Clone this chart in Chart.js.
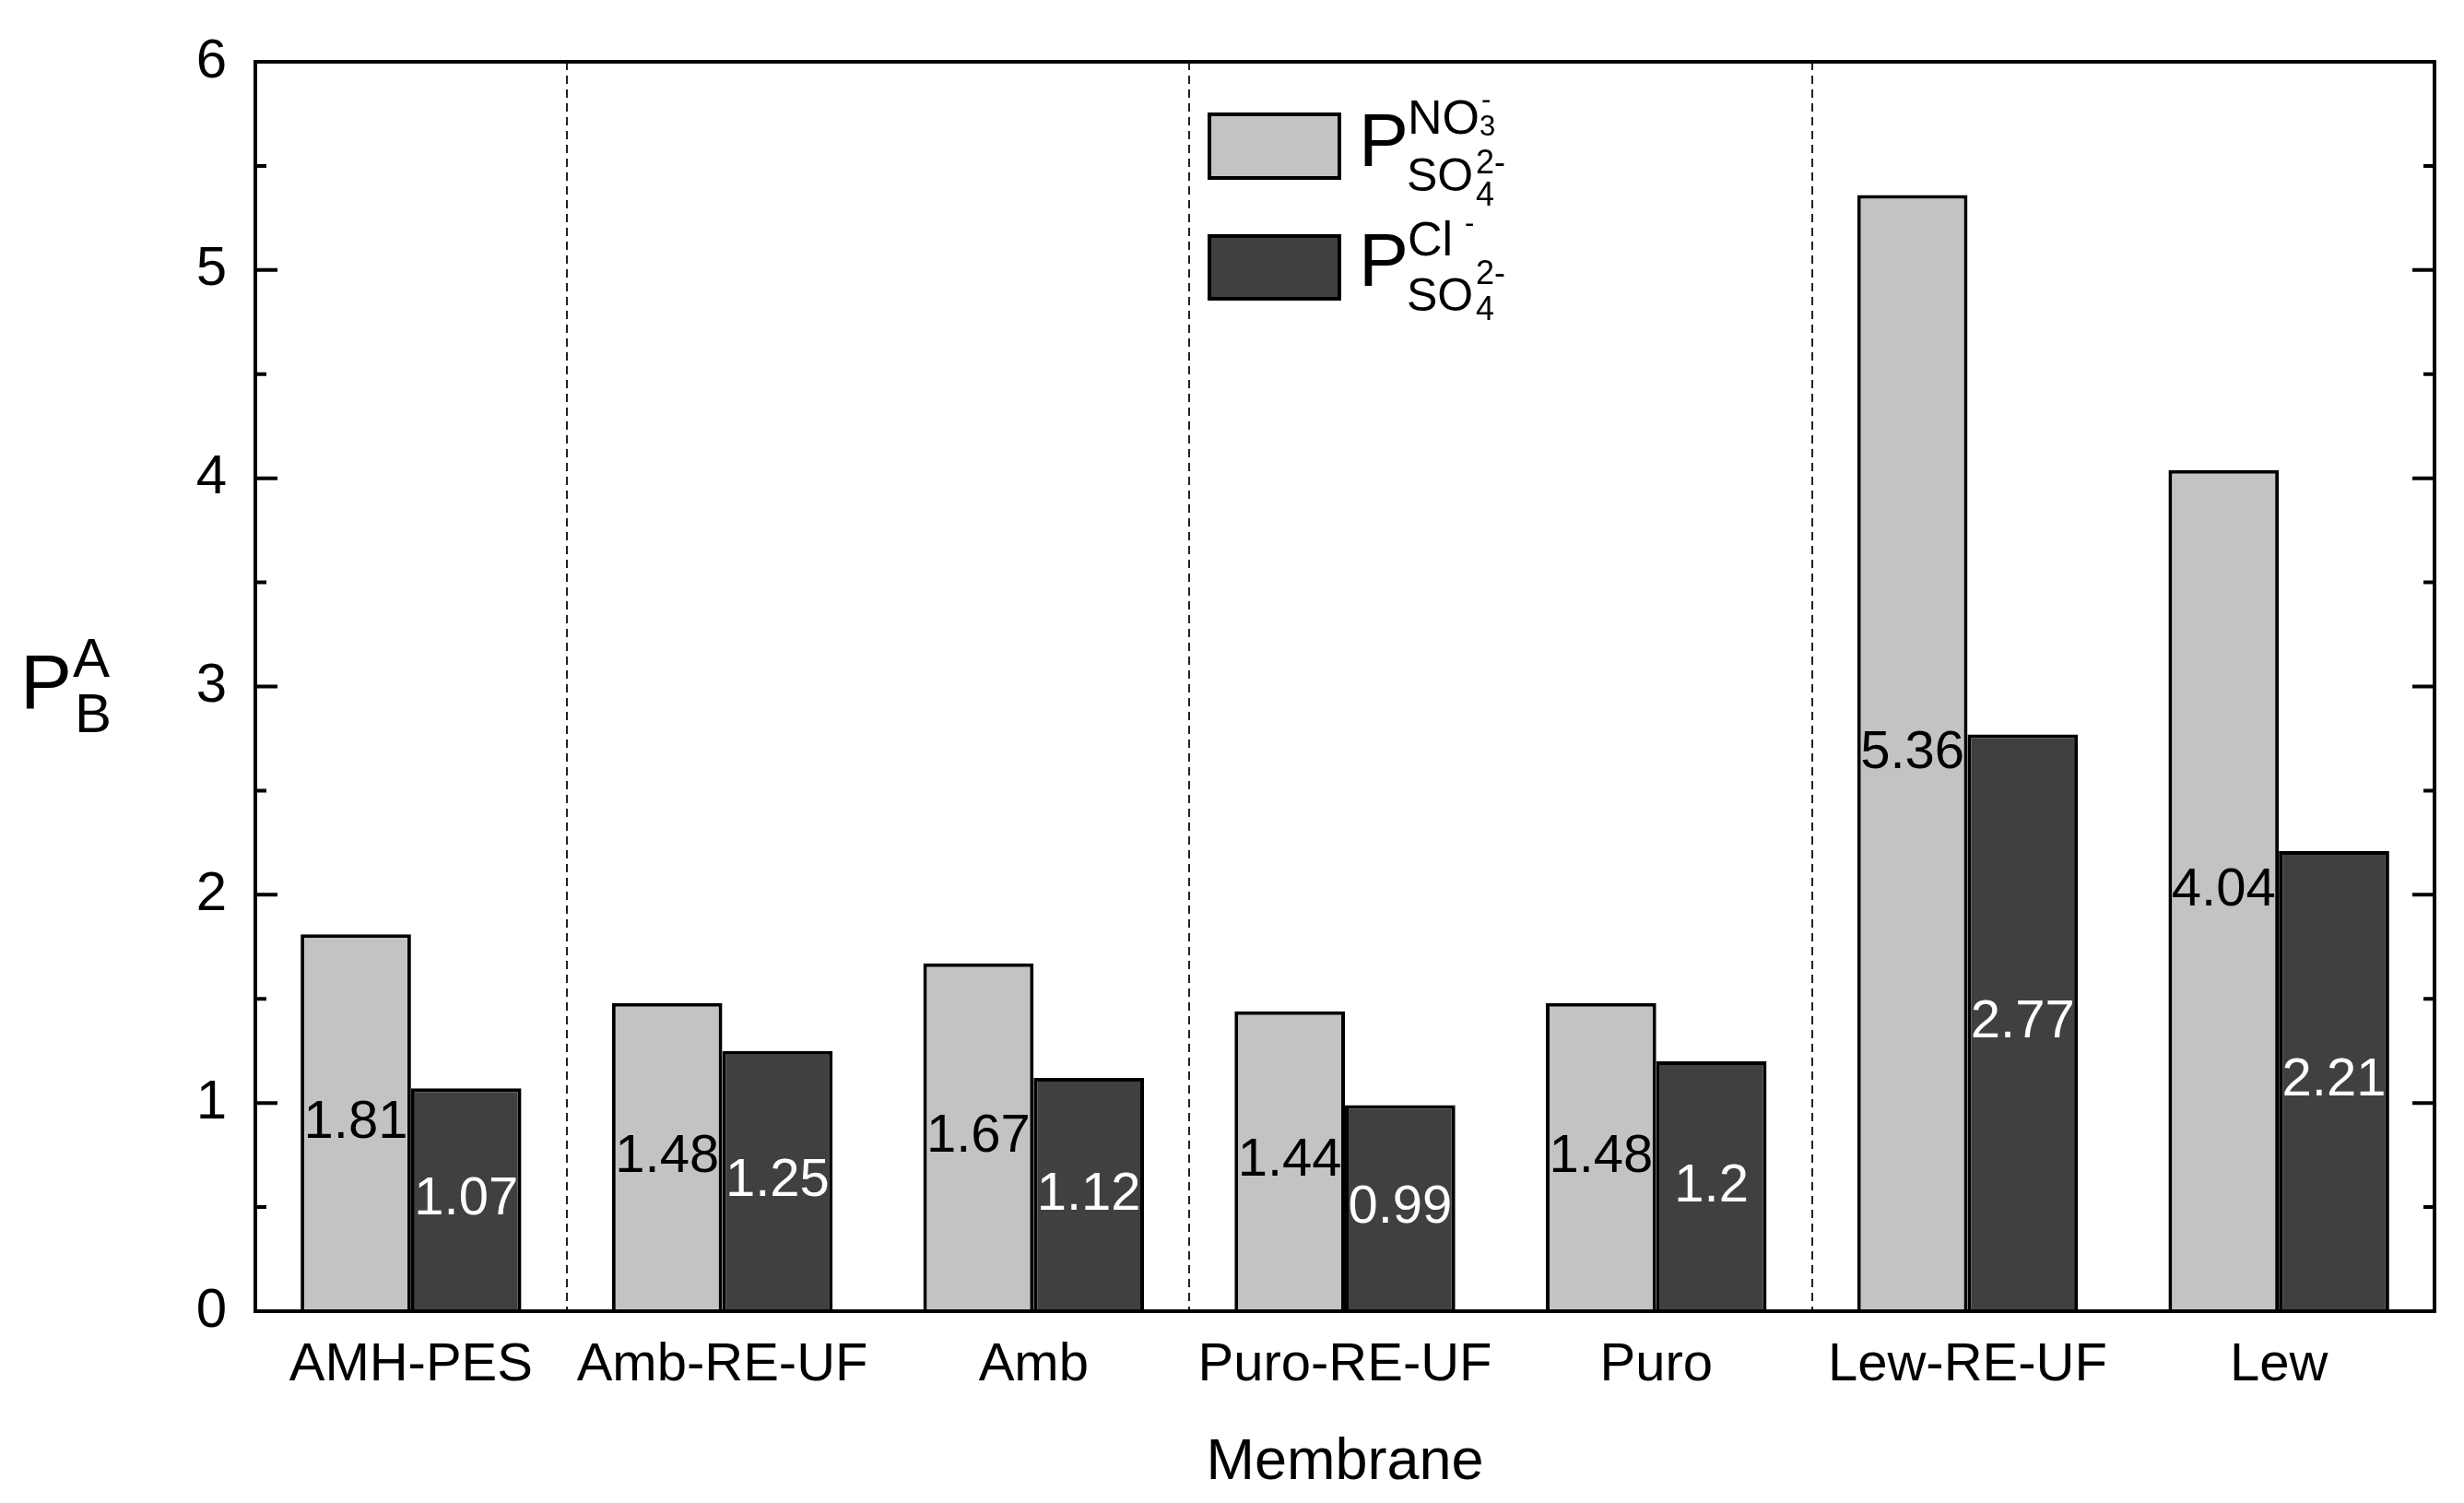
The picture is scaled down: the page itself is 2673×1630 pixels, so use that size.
<!DOCTYPE html>
<html>
<head>
<meta charset="utf-8">
<script src="https://cdn.jsdelivr.net/npm/chart.js@4"></script>
<style>
  html, body { margin: 0; padding: 0; background: #fff; }
  canvas { display: block; }
</style>
</head>
<body>
<canvas id="barChart" width="2673" height="1630"></canvas>
<script>
const categories = ["AMH-PES", "Amb-RE-UF", "Amb", "Puro-RE-UF", "Puro", "Lew-RE-UF", "Lew"];
const nitrateValues = [1.81, 1.48, 1.67, 1.44, 1.48, 5.36, 4.04];
const chlorideValues = [1.07, 1.25, 1.12, 0.99, 1.2, 2.77, 2.21];
const yTicks = [0, 1, 2, 3, 4, 5, 6];
// dashed separators drawn after these category indexes
const dividerAfter = [0, 2, 4];

const FONT = '"Liberation Sans", Arial, sans-serif';
const LIGHT = "#c3c3c3";
const DARK = "#404040";

// frame, inward ticks, dividers
const framePlugin = {
  id: "frame",
  beforeDatasetsDraw(chart) {
    const { ctx, chartArea: a, scales } = chart;
    ctx.save();
    ctx.strokeStyle = "#222";
    ctx.lineWidth = 2;
    ctx.setLineDash([9, 6]);
    dividerAfter.forEach((i) => {
      const x = Math.round((scales.x.getPixelForValue(i) + scales.x.getPixelForValue(i + 1)) / 2);
      ctx.beginPath();
      ctx.moveTo(x, a.top);
      ctx.lineTo(x, a.bottom);
      ctx.stroke();
    });
    ctx.restore();
  },
  afterDatasetsDraw(chart) {
    const { ctx, chartArea: a, scales } = chart;
    ctx.save();
    ctx.strokeStyle = "#000";
    ctx.lineWidth = 4;
    for (let v = 0; v < yTicks.length; v++) {
      const t = yTicks[v];
      const y = scales.y.getPixelForValue(t);
      ctx.beginPath();
      ctx.moveTo(a.left, y); ctx.lineTo(a.left + 24, y);
      ctx.moveTo(a.right, y); ctx.lineTo(a.right - 24, y);
      ctx.stroke();
      if (v < yTicks.length - 1) {
        const ym = scales.y.getPixelForValue(t + 0.5);
        ctx.beginPath();
        ctx.moveTo(a.left, ym); ctx.lineTo(a.left + 12, ym);
        ctx.moveTo(a.right, ym); ctx.lineTo(a.right - 12, ym);
        ctx.stroke();
      }
    }
    ctx.strokeRect(a.left, a.top, a.right - a.left, a.bottom - a.top);

    // value labels in the middle of each bar
    ctx.font = "58px " + FONT;
    ctx.textAlign = "center";
    ctx.textBaseline = "middle";
    chart.data.datasets.forEach((ds, di) => {
      ctx.fillStyle = di === 0 ? "#000" : "#fff";
      chart.getDatasetMeta(di).data.forEach((el, i) => {
        ctx.fillText(String(ds.data[i]), el.x, (el.y + el.base) / 2);
      });
    });
    ctx.restore();
  },
  afterDraw(chart) {
    const { ctx } = chart;
    ctx.save();
    ctx.fillStyle = "#000";
    ctx.textAlign = "left";
    ctx.textBaseline = "alphabetic";
    const txt = (s, size, x, y) => { ctx.font = size + "px " + FONT; ctx.fillText(s, x, y); };

    // y axis title P^A_B
    txt("P", 84, 22, 768);
    txt("A", 60, 79, 734);
    txt("B", 60, 81, 794);

    // legend
    ctx.lineWidth = 4;
    ctx.strokeStyle = "#000";
    ctx.fillStyle = LIGHT;
    ctx.fillRect(1312, 124, 141, 69);
    ctx.strokeRect(1312, 124, 141, 69);
    ctx.fillStyle = DARK;
    ctx.fillRect(1312, 256, 141, 68);
    ctx.strokeRect(1312, 256, 141, 68);

    ctx.fillStyle = "#000";
    txt("P", 81, 1474, 180);
    txt("NO", 52, 1527, 145);
    txt("3", 31, 1605, 147);
    txt("-", 31, 1607, 118);
    txt("SO", 50, 1526, 207);
    txt("2-", 36, 1601, 188);
    txt("4", 36, 1601, 223);

    txt("P", 81, 1474, 310);
    txt("Cl", 52, 1527, 277);
    txt("-", 31, 1589, 252);
    txt("SO", 50, 1526, 337);
    txt("2-", 36, 1601, 308);
    txt("4", 36, 1601, 347);
    ctx.restore();
  }
};

new Chart(document.getElementById("barChart").getContext("2d"), {
  type: "bar",
  data: {
    labels: categories,
    datasets: [
      {
        label: "P NO3- / SO42-",
        data: nitrateValues,
        backgroundColor: LIGHT,
        borderColor: "#000",
        borderWidth: 4,
      },
      {
        label: "P Cl- / SO42-",
        data: chlorideValues,
        backgroundColor: DARK,
        borderColor: "#000",
        borderWidth: 4,
      },
    ],
  },
  options: {
    responsive: false,
    devicePixelRatio: 1,
    animation: false,
    layout: { padding: { left: 0, top: 62, right: 32, bottom: 0 } },
    datasets: { bar: { categoryPercentage: 0.709, barPercentage: 1.0 } },
    plugins: {
      legend: { display: false },
      tooltip: { enabled: false },
    },
    scales: {
      x: {
        grid: { display: false, drawTicks: false },
        border: { display: false },
        ticks: { color: "#000", font: { family: FONT, size: 58 }, padding: 24, maxRotation: 0, autoSkip: false },
        title: { display: true, text: "Membrane", color: "#000", font: { family: FONT, size: 63 }, padding: { top: 0, bottom: 6 } },
        afterFit(scale) { scale.height = 208; },
      },
      y: {
        min: 0,
        max: 6,
        grid: { display: false, drawTicks: false },
        border: { display: false },
        ticks: {
          stepSize: 1,
          color: "#000",
          font: { family: FONT, size: 60 },
          padding: 31,
          callback: (v) => (yTicks.includes(v) ? String(v) : ""),
        },
        afterFit(scale) { scale.width = 277; },
      },
    },
  },
  plugins: [framePlugin],
});
</script>
</body>
</html>
